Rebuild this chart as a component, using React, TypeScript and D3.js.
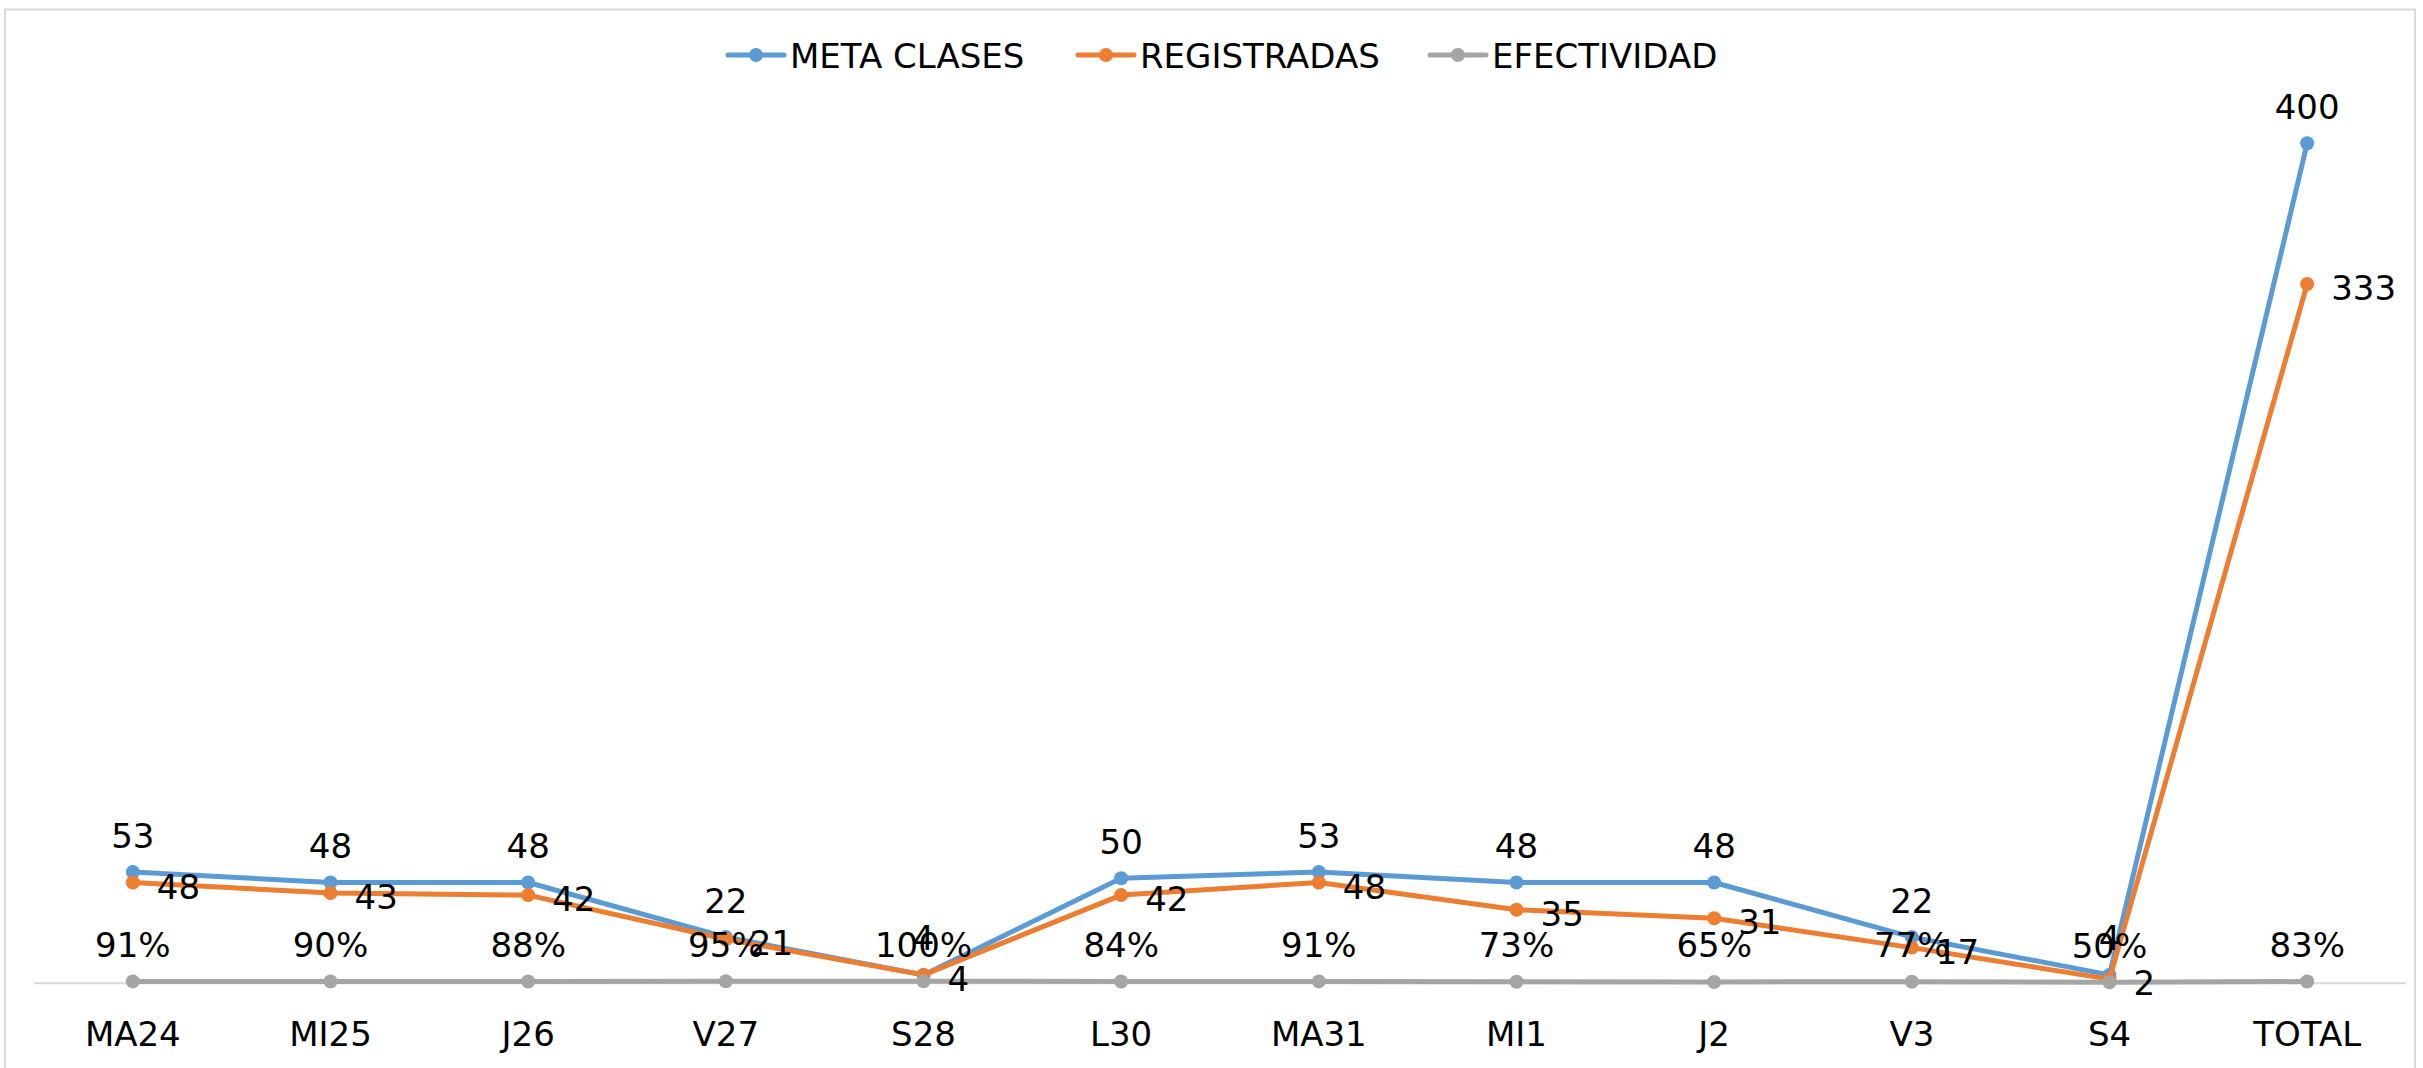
import React from "react";
import * as d3 from "d3";

const categories = ["MA24", "MI25", "J26", "V27", "S28", "L30", "MA31", "MI1", "J2", "V3", "S4", "TOTAL"];
const metaClases = [53, 48, 48, 22, 4, 50, 53, 48, 48, 22, 4, 400];
const registradas = [48, 43, 42, 21, 4, 42, 48, 35, 31, 17, 2, 333];
const efectividad = [0.91, 0.9, 0.88, 0.95, 1.0, 0.84, 0.91, 0.73, 0.65, 0.77, 0.5, 0.83];
const seriesNames = ["META CLASES", "REGISTRADAS", "EFECTIVIDAD"];
const colors = ["#5B9BD5", "#ED7D31", "#A5A5A5"];

const W = 2423;
const H = 1068;
const FONT = "'DejaVu Sans', sans-serif";
const FS = 34;

export default function App() {
  const x = d3.scaleBand<string>().domain(categories).range([34, 2406]);
  const cx = (c: string) => (x(c) as number) + x.bandwidth() / 2;
  const y = d3.scaleLinear().domain([0, 450]).range([983.3, 38.3]);
  const line = d3
    .line<[string, number]>()
    .x((d) => cx(d[0]))
    .y((d) => y(d[1]));
  const pct = d3.format(".0%");

  const series = [metaClases, registradas, efectividad];
  const legendX = [728, 1078, 1430];

  return (
    <svg
      width={W}
      height={H}
      style={{ position: "absolute", left: 0, top: 0, background: "#fff" }}
      fontFamily={FONT}
    >
      <rect x={0} y={0} width={W} height={H} fill="#fff" />
      <rect x={5} y={9.5} width={2410} height={1070} fill="none" stroke="#D9D9D9" strokeWidth={2} />
      {/* category axis */}
      <line x1={34} x2={2406} y1={y(0)} y2={y(0)} stroke="#D9D9D9" strokeWidth={2} />
      {categories.map((c) => (
        <text key={c} x={cx(c)} y={1046} textAnchor="middle" fontSize={FS} fill="#000">
          {c}
        </text>
      ))}
      {/* lines */}
      {series.map((s, si) => (
        <g key={si}>
          <path
            d={line(categories.map((c, i) => [c, s[i]] as [string, number])) || ""}
            fill="none"
            stroke={colors[si]}
            strokeWidth={5}
            strokeLinejoin="round"
          />
          {categories.map((c, i) => (
            <circle key={c} cx={cx(c)} cy={y(s[i])} r={7} fill={colors[si]} />
          ))}
        </g>
      ))}
      {/* labels */}
      {categories.map((c, i) => (
        <text key={"m" + c} x={cx(c)} y={y(metaClases[i]) - 24.5} textAnchor="middle" fontSize={FS} fill="#000">
          {metaClases[i]}
        </text>
      ))}
      {categories.map((c, i) => (
        <text key={"r" + c} x={cx(c) + 24} y={y(registradas[i]) + 16} textAnchor="start" fontSize={FS} fill="#000">
          {registradas[i]}
        </text>
      ))}
      {categories.map((c, i) => (
        <text key={"e" + c} x={cx(c)} y={y(efectividad[i]) - 24.5} textAnchor="middle" fontSize={FS} fill="#000">
          {pct(efectividad[i])}
        </text>
      ))}
      {/* legend */}
      {seriesNames.map((n, i) => (
        <g key={n} transform={`translate(${legendX[i]},55)`}>
          <line x1={0} x2={56} y1={0} y2={0} stroke={colors[i]} strokeWidth={5} strokeLinecap="round" />
          <circle cx={28} cy={0} r={7} fill={colors[i]} />
          <text x={62} y={12.5} fontSize={FS} fill="#000">
            {n}
          </text>
        </g>
      ))}
    </svg>
  );
}
